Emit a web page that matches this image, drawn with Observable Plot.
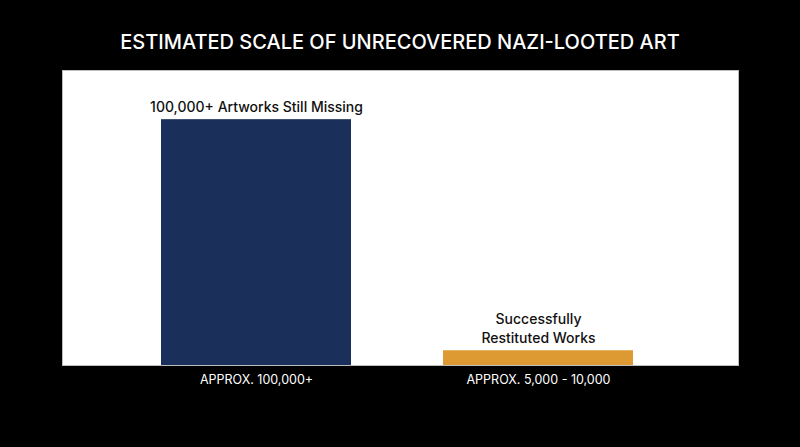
<!DOCTYPE html>
<html>
<head>
<meta charset="utf-8">
<script src="https://cdn.jsdelivr.net/npm/d3@7"></script>
<script src="https://cdn.jsdelivr.net/npm/@observablehq/plot@0.6"></script>
<style>
  html, body { margin: 0; padding: 0; background: #000; }
  #wrap { width: 800px; height: 447px; background: #000; overflow: hidden; }
  #title { box-sizing: border-box; height: 60px; padding-top: 30px; line-height: 24px; text-align: center;
           color: #fff; font-family: Inter, "Open Sans", sans-serif; font-weight: 500; font-size: 20px; letter-spacing: 0px; }
</style>
</head>
<body>
<div id="wrap">
  <div id="title">ESTIMATED SCALE OF UNRECOVERED NAZI-LOOTED ART</div>
  <div id="chart"></div>
</div>
<script>
const categories = ["APPROX. 100,000+", "APPROX. 5,000 - 10,000"];
const values = [100000, 6000];
const barLabels = ["100,000+ Artworks Still Missing", "Successfully\nRestituted Works"];
const barColors = ["#1b2f5b", "#dd9a33"];

const data = categories.map((c, i) => ({cat: c, value: values[i], label: barLabels[i], color: barColors[i]}));

const chart = Plot.plot({
  width: 800,
  height: 387,
  marginTop: 10,
  marginBottom: 82,
  marginLeft: 62,
  marginRight: 62,
  style: {background: "#000", fontFamily: "Inter, 'Open Sans', sans-serif"},
  x: {domain: categories, paddingInner: 0.326, paddingOuter: 0.36, align: 0.485, label: null},
  y: {domain: [0, 120000], axis: null},
  marks: [
    Plot.frame({fill: "#fff", stroke: "#bdbdbd"}),
    Plot.barY(data, {x: "cat", y: "value", fill: "color"}),
    Plot.text(data, {x: "cat", y: "value", text: "label", lineAnchor: "bottom", dy: -8,
      fill: "#111", fontSize: 14, fontWeight: 500, lineHeight: 1.35}),
    Plot.axisX({tickSize: 0, tickPadding: 10, fontSize: 12.5, color: "#fff", label: null})
  ]
});
document.getElementById("chart").appendChild(chart);
</script>
</body>
</html>
